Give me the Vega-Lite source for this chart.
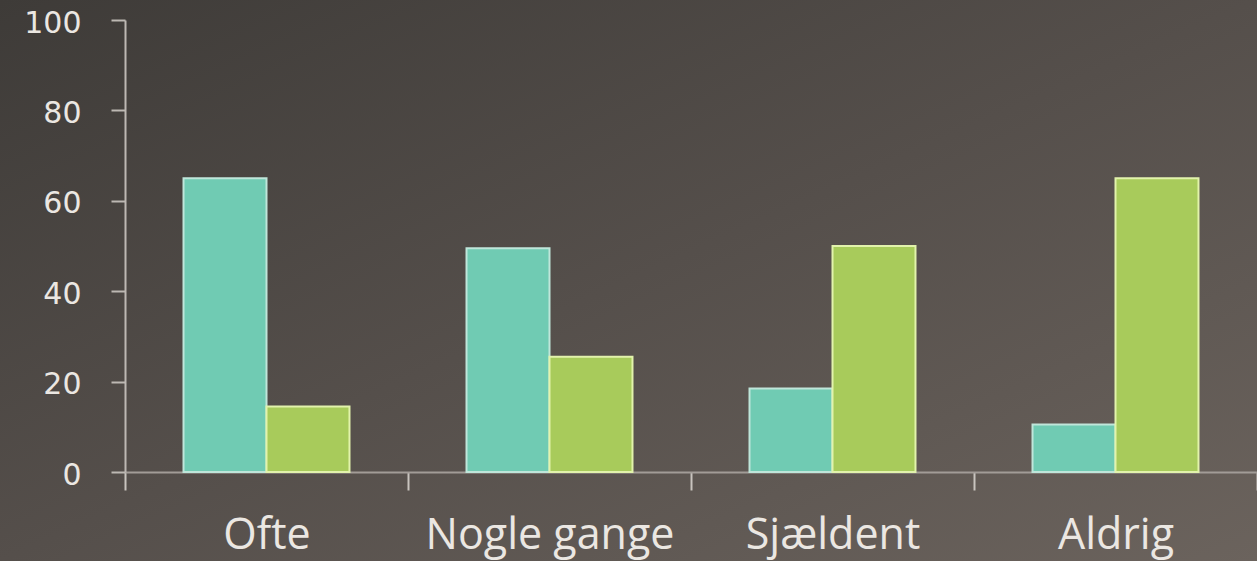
{
  "$schema": "https://vega.github.io/schema/vega-lite/v6.json",
  "width": 1257,
  "height": 561,
  "autosize": {"type": "none"},
  "padding": 0,
  "background": "#534d49",
  "config": {
    "view": {
      "stroke": null,
      "fill": {
        "gradient": "linear",
        "x1": 0, "y1": 0, "x2": 1, "y2": 1,
        "stops": [
          {"offset": 0, "color": "#3e3b38"},
          {"offset": 0.5, "color": "#554f4b"},
          {"offset": 1, "color": "#6b635d"}
        ]
      }
    },
    "font": "Open Sans"
  },
  "data": {
    "values": [
      {"kategori": "Ofte", "serie": "Gruppe 1", "procent": 65},
      {"kategori": "Ofte", "serie": "Gruppe 2", "procent": 14.5},
      {"kategori": "Nogle gange", "serie": "Gruppe 1", "procent": 49.5},
      {"kategori": "Nogle gange", "serie": "Gruppe 2", "procent": 25.5},
      {"kategori": "Sjældent", "serie": "Gruppe 1", "procent": 18.5},
      {"kategori": "Sjældent", "serie": "Gruppe 2", "procent": 50},
      {"kategori": "Aldrig", "serie": "Gruppe 1", "procent": 10.5},
      {"kategori": "Aldrig", "serie": "Gruppe 2", "procent": 65}
    ]
  },
  "mark": {"type": "bar", "strokeWidth": 2},
  "encoding": {
    "x": {
      "field": "kategori",
      "type": "nominal",
      "sort": ["Ofte", "Nogle gange", "Sjældent", "Aldrig"],
      "scale": {"paddingInner": 0, "paddingOuter": 0, "range": [125, 1257]},
      "axis": {
        "title": null,
        "offset": -89,
        "labelAngle": 0,
        "labelLimit": 0,
        "tickBand": "extent",
        "domainColor": "#a29c97",
        "domainWidth": 2,
        "tickColor": "#c9c4bf",
        "tickWidth": 2,
        "tickSize": 18,
        "labelPadding": 24,
        "labelFontSize": 43,
        "labelColor": "#ebe7e2",
        "labelFont": "Open Sans"
      }
    },
    "xOffset": {
      "field": "serie",
      "type": "nominal",
      "scale": {"paddingInner": 0, "paddingOuter": 0.705}
    },
    "y": {
      "field": "procent",
      "type": "quantitative",
      "scale": {"domain": [0, 100], "range": [472, 20]},
      "axis": {
        "title": null,
        "offset": -125,
        "grid": false,
        "values": [0, 20, 40, 60, 80, 100],
        "domainColor": "#bdb8b3",
        "domainWidth": 2,
        "tickColor": "#bdb8b3",
        "tickWidth": 2,
        "tickSize": 14,
        "labelPadding": 30,
        "labelOffset": 3,
        "labelFontSize": 30,
        "labelColor": "#ebe7e2",
        "labelFont": "DejaVu Sans"
      }
    },
    "color": {
      "field": "serie",
      "type": "nominal",
      "scale": {"domain": ["Gruppe 1", "Gruppe 2"], "range": ["#70cbb3", "#a8cb5b"]},
      "legend": null
    },
    "stroke": {
      "field": "serie",
      "type": "nominal",
      "scale": {"domain": ["Gruppe 1", "Gruppe 2"], "range": ["#bfe6da", "#e2f3ac"]},
      "legend": null
    }
  }
}
